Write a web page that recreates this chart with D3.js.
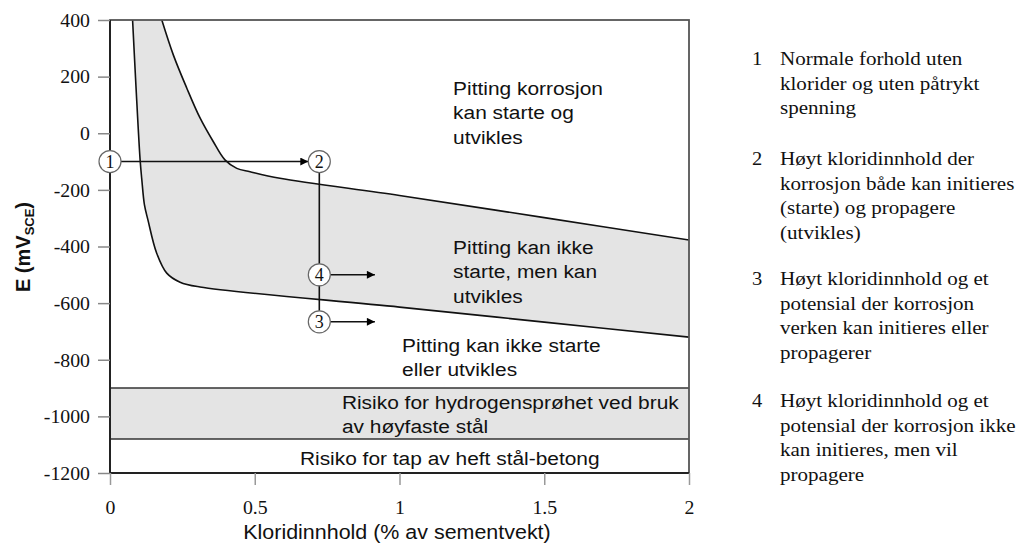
<!DOCTYPE html>
<html><head><meta charset="utf-8">
<script src="https://cdn.jsdelivr.net/npm/d3@7"></script>
<style>body{margin:0;background:#fff}</style>
</head><body><svg id="c" width="1018" height="546"></svg>
<script>
// ---------- data ----------
const xTicks = [0, 0.5, 1, 1.5, 2];
const xTickLabels = ["0", "0.5", "1", "1.5", "2"];
const yTicks = [400, 200, 0, -200, -400, -600, -800, -1000, -1200];
const yTickLabels = ["400", "200", "0", "-200", "-400", "-600", "-800", "-1000", "-1200"];

// pitting initiation boundary (upper curve)
const upperX = [0.179, 0.219, 0.265, 0.311, 0.357, 0.397, 0.438, 0.484, 0.587, 1.0, 1.5, 2.0];
const upperE = [400, 276, 160, 54, -30, -94, -124, -136, -159, -220, -298, -377];
// pitting propagation boundary (lower curve)
const lowerX = [0.078, 0.090, 0.104, 0.110, 0.119, 0.131, 0.161, 0.196, 0.242, 0.311, 1.0, 1.5, 2.0];
const lowerE = [400, 160, -94, -165, -253, -306, -423, -494, -526, -543, -614, -667, -720];

const hydrogenBand = [-900, -1080];

const pointLabels = ["1", "2", "3", "4"];
const pointX = [0, 0.723, 0.723, 0.723];
const pointE = [-100, -100, -666, -500];
const arrowEndX = 0.915;

const regionTexts = [
  ["Pitting korrosjon", "kan starte og", "utvikles"],
  ["Pitting kan ikke", "starte, men kan", "utvikles"],
  ["Pitting kan ikke starte", "eller utvikles"],
  ["Risiko for hydrogensprøhet ved bruk", "av høyfaste stål"],
  ["Risiko for tap av heft stål-betong"]
];
// anchors (x value, E value of first line centre)
const regionAnchorX = [1.185, 1.185, 1.009, 0.801, 0.656];
const regionAnchorE = [160, -402, -748, -949, -1147];

const legendNums = ["1", "2", "3", "4"];
const legendTexts = [
  ["Normale forhold uten", "klorider og uten påtrykt", "spenning"],
  ["Høyt kloridinnhold der", "korrosjon både kan initieres", "(starte) og propagere", "(utvikles)"],
  ["Høyt kloridinnhold og et", "potensial der korrosjon", "verken kan initieres eller", "propagerer"],
  ["Høyt kloridinnhold og et", "potensial der korrosjon ikke", "kan initieres, men vil", "propagere"]
];
const legendTop = [58, 158, 278, 400];

const xTitle = "Kloridinnhold (% av sementvekt)";

// ---------- layout ----------
const svg = d3.select("#c");
const L = 110, R = 689, T = 20, B = 473;
const x = d3.scaleLinear().domain([0, 2]).range([L, R]);
const y = d3.scaleLinear().domain([-1200, 400]).range([B, T]);
const SX = 1.1;
const SANS = "'Liberation Sans', Arial, sans-serif";
const SERIF = "'Liberation Serif', 'Times New Roman', serif";
const GRAY = "#e4e4e4";

function stext(g, px, py, str, font, size, anchor, sx) {
  return g.append("text")
    .attr("transform", `translate(${px},${py}) scale(${sx || SX},1)`)
    .attr("dy", "0.35em")
    .attr("text-anchor", anchor || "start")
    .attr("font-family", font).attr("font-size", size)
    .attr("fill", "#111")
    .text(str);
}

const defs = svg.append("defs");
defs.append("clipPath").attr("id", "clip")
  .append("rect").attr("x", L).attr("y", T).attr("width", R - L).attr("height", B - T);
defs.append("marker").attr("id", "arr").attr("viewBox", "0 0 10 10")
  .attr("refX", 10).attr("refY", 5).attr("markerWidth", 9).attr("markerHeight", 8)
  .attr("markerUnits", "userSpaceOnUse").attr("orient", "auto")
  .append("path").attr("d", "M0,0L10,5L0,10Z").attr("fill", "#000");

const plot = svg.append("g").attr("clip-path", "url(#clip)");

// gray zone between curves
const upper = upperX.map((v, i) => [v, upperE[i]]);
const lower = lowerX.map((v, i) => [v, lowerE[i]]);
const line = d3.line().x(d => x(d[0])).y(d => y(d[1])).curve(d3.curveCatmullRom.alpha(0.5));
const upRev = line(upper.slice().reverse());
const fillD = line(lower) + "L" + upRev.slice(1) + "Z";
plot.append("path").attr("d", fillD).attr("fill", GRAY).attr("stroke", "none");

// hydrogen band
plot.append("rect").attr("x", x(0)).attr("width", x(2) - x(0))
  .attr("y", y(hydrogenBand[0])).attr("height", y(hydrogenBand[1]) - y(hydrogenBand[0]))
  .attr("fill", GRAY);
hydrogenBand.forEach(v => plot.append("line").attr("x1", x(0)).attr("x2", x(2))
  .attr("y1", y(v)).attr("y2", y(v)).attr("stroke", "#333").attr("stroke-width", 1.6));

// curves
[upper, lower].forEach(d => plot.append("path").attr("d", line(d))
  .attr("fill", "none").attr("stroke", "#111").attr("stroke-width", 1.6));

// frame
svg.append("rect").attr("x", L).attr("y", T).attr("width", R - L).attr("height", B - T)
  .attr("fill", "none").attr("stroke", "#555").attr("stroke-width", 1.8);
svg.append("line").attr("x1", L).attr("x2", L).attr("y1", T).attr("y2", B).attr("stroke", "#222").attr("stroke-width", 2);
svg.append("line").attr("x1", L).attr("x2", R).attr("y1", B).attr("y2", B).attr("stroke", "#222").attr("stroke-width", 2);

// axes
const yAx = svg.append("g").attr("transform", `translate(${L},0)`)
  .call(d3.axisLeft(y).tickValues(yTicks).tickFormat((d, i) => yTickLabels[i]).tickSize(12).tickPadding(8));
yAx.attr("font-family", SERIF).attr("font-size", 18);
yAx.select(".domain").remove();
yAx.selectAll(".tick line").attr("stroke", "#888").attr("stroke-width", 1.5);
yAx.selectAll(".tick text")
  .attr("transform", `translate(-20,0) scale(${SX},1)`).attr("x", 0).attr("dy", "0.35em")
  .attr("font-family", SERIF).attr("font-size", 18).attr("fill", "#111");
const xAx = svg.append("g").attr("transform", `translate(0,${B})`)
  .call(d3.axisBottom(x).tickValues(xTicks).tickFormat((d, i) => xTickLabels[i]).tickSize(12).tickPadding(8));
xAx.attr("font-family", SERIF).attr("font-size", 18);
xAx.select(".domain").remove();
xAx.selectAll(".tick line").attr("stroke", "#999").attr("stroke-width", 1.5);
xAx.selectAll(".tick text")
  .attr("transform", `translate(0,35) scale(${SX},1)`).attr("y", 0).attr("dy", "0.35em")
  .attr("font-family", SERIF).attr("font-size", 18).attr("fill", "#111");

// axis titles
stext(svg, 397, 532, xTitle, SANS, 19.5, "middle");
const yt = svg.append("text").attr("transform", `translate(23,247) rotate(-90)`)
  .attr("text-anchor", "middle").attr("dy", "0.35em")
  .attr("font-family", SANS).attr("font-size", 20).attr("font-weight", "bold").attr("fill", "#111");
yt.append("tspan").text("E (mV");
yt.append("tspan").text("SCE").attr("font-size", 13).attr("dy", "4");
yt.append("tspan").text(")").attr("dy", "-4");

// paths between points
const P = pointLabels.map((l, i) => ({ l, px: x(pointX[i]), py: y(pointE[i]) }));
const rC = 11;
svg.append("line").attr("x1", P[1].px).attr("x2", P[2].px).attr("y1", P[1].py).attr("y2", P[2].py)
  .attr("stroke", "#111").attr("stroke-width", 1.6);
svg.append("line").attr("x1", P[0].px + rC).attr("x2", P[1].px - rC).attr("y1", P[0].py).attr("y2", P[1].py)
  .attr("stroke", "#111").attr("stroke-width", 1.6).attr("marker-end", "url(#arr)");
[P[2], P[3]].forEach(p => svg.append("line").attr("x1", p.px + rC).attr("x2", x(arrowEndX))
  .attr("y1", p.py).attr("y2", p.py).attr("stroke", "#111").attr("stroke-width", 1.6).attr("marker-end", "url(#arr)"));
P.forEach(p => {
  svg.append("circle").attr("cx", p.px).attr("cy", p.py).attr("r", rC)
    .attr("fill", "#fff").attr("stroke", "#666").attr("stroke-width", 1.2);
  svg.append("text").attr("x", p.px).attr("y", p.py).attr("dy", "0.36em").attr("text-anchor", "middle")
    .attr("font-family", SERIF).attr("font-size", 18).attr("fill", "#111").text(p.l);
});

// region labels
regionTexts.forEach((lines, i) => {
  lines.forEach((s, j) => stext(svg, x(regionAnchorX[i]), y(regionAnchorE[i]) + j * 24.5, s, SANS, 19, "start"));
});

// legend
legendNums.forEach((n, i) => {
  stext(svg, 757, legendTop[i], n, SERIF, 19, "middle", 1.08);
  legendTexts[i].forEach((s, j) => stext(svg, 780, legendTop[i] + j * 24.8, s, SERIF, 19.5, "start", 1.08));
});
</script></body></html>
